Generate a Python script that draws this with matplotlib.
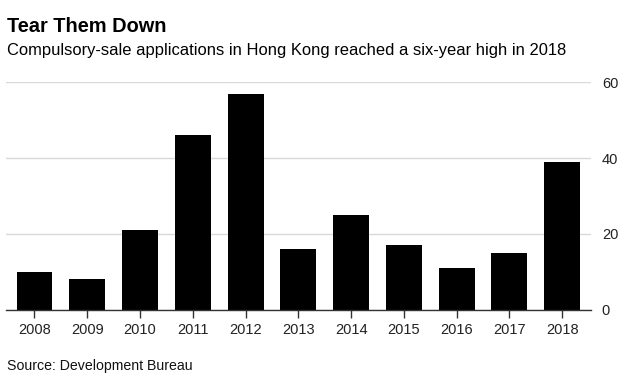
import matplotlib
matplotlib.use("Agg")
import matplotlib.pyplot as plt

years = ["2008", "2009", "2010", "2011", "2012", "2013", "2014", "2015", "2016", "2017", "2018"]
applications = [10, 8, 21, 46, 57, 16, 25, 17, 11, 15, 39]
y_ticks = [0, 20, 40, 60]

plt.rcParams['font.family'] = ['Liberation Sans', 'DejaVu Sans']

W, H = 629, 383
fig = plt.figure(figsize=(W / 100, H / 100), dpi=100)
ax = fig.add_axes([6 / W, (H - 309.5) / H, (590.7 - 6) / W, (309.5 - 82.3) / H])

x = list(range(len(years)))
ax.bar(x, applications, width=0.68, color="black", zorder=3)

ax.set_xlim(-0.54, len(years) - 1 + 0.54)
ax.set_ylim(0, 60)
ax.set_yticks(y_ticks)
ax.yaxis.tick_right()
ax.tick_params(axis="y", length=0, pad=8, labelsize=10.5, labelcolor="#222222")
ax.set_xticks(x)
ax.set_xticklabels(years)
ax.tick_params(axis="x", length=6, width=1, color="#333333", pad=4, labelsize=10.5, labelcolor="#222222")
ax.grid(axis="y", color="#d9d9d9", linewidth=1, zorder=0)
for s in ["top", "right", "left"]:
    ax.spines[s].set_visible(False)
ax.spines["bottom"].set_color("#333333")
ax.spines["bottom"].set_linewidth(1)
ax.spines["bottom"].set_zorder(4)

fig.text(7 / W, 1 - 32.5 / H, "Tear Them Down", fontsize=14.4, fontweight="bold", color="black", va="baseline")
fig.text(7 / W, 1 - 54.5 / H, "Compulsory-sale applications in Hong Kong reached a six-year high in 2018",
         fontsize=11.9, color="black", va="baseline")
fig.text(7 / W, 1 - 370 / H, "Source: Development Bureau", fontsize=10.2, color="#111111", va="baseline")

fig.savefig("out.png", dpi=100)
